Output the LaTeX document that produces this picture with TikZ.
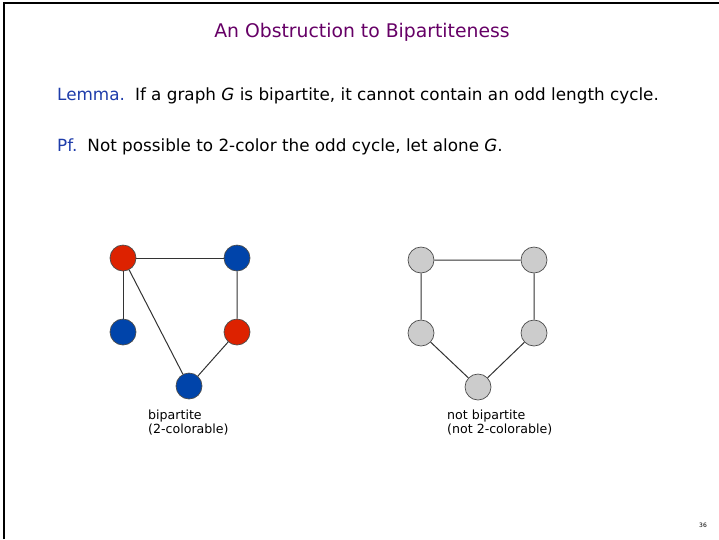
\documentclass[tikz,border=0pt]{standalone}
\usepackage{fontspec}
\setmainfont{DejaVu Sans}
\usetikzlibrary{positioning}
\definecolor{titlepurple}{RGB}{102,0,102}
\definecolor{lemmablue}{RGB}{30,60,170}
\definecolor{nodered}{RGB}{221,34,0}
\definecolor{nodeblue}{RGB}{0,68,170}
\definecolor{nodegray}{RGB}{204,204,204}

\begin{document}
\begin{tikzpicture}[x=1pt,y=-1pt]
	 \tikzstyle{vertex}=[circle,draw=black!70,line width=0.7pt,minimum size=26pt,inner sep=0pt]
	 \tikzstyle{edge} = [draw,line width=1pt,-,black!80]
	 \tikzstyle{textline}=[anchor=base west,inner sep=0pt,font=\fontsize{16.8}{20}\selectfont]
	 \tikzstyle{caption}=[anchor=base west,inner sep=0pt,align=left,font=\fontsize{12.6}{14}\selectfont]
	 \useasboundingbox (0,0) rectangle (719,539);
	 \draw[line width=2.5pt] (4,539) -- (4,3) -- (719,3);

	 \node[anchor=base,inner sep=0pt,text=titlepurple,font=\fontsize{18.8}{22}\selectfont] (title) at (362,37) {An Obstruction to Bipartiteness};
	 \node[textline] (lemma) at (57,100) {\textcolor{lemmablue}{Lemma.}\hspace{0.6em}If a graph \textit{G} is bipartite, it cannot contain an odd length cycle.};
	 \node[textline] (pf) at (57,151) {\textcolor{lemmablue}{Pf.}\hspace{0.6em}Not possible to 2-color the odd cycle, let alone \textit{G}.};

	 % bipartite graph
	 \node[vertex,fill=nodered] (u1) at (123,258) {};
	 \node[vertex,fill=nodeblue] (u2) at (237,258) {};
	 \node[vertex,fill=nodeblue] (u3) at (123,332) {};
	 \node[vertex,fill=nodered] (u4) at (237,332) {};
	 \node[vertex,fill=nodeblue] (u5) at (189,386) {};

	 \draw[edge] (u1) -- (u2);
	 \draw[edge] (u1) -- (u3);
	 \draw[edge] (u1) -- (u5);
	 \draw[edge] (u2) -- (u4) -- (u5);

	 % odd cycle
	 \node[vertex,fill=nodegray] (w1) at (421,260) {};
	 \node[vertex,fill=nodegray] (w2) at (534,260) {};
	 \node[vertex,fill=nodegray] (w3) at (421,333) {};
	 \node[vertex,fill=nodegray] (w4) at (534,333) {};
	 \node[vertex,fill=nodegray] (w5) at (478,387) {};

	 \draw[edge] (w1) -- (w2) -- (w4) -- (w5) -- (w3) -- (w1);

	 \node[caption] (cap1) at (148,433) {bipartite\\(2-colorable)};
	 \node[caption] (cap2) at (447,433) {not bipartite\\(not 2-colorable)};
	 \node[inner sep=0pt,font=\fontsize{6}{7}\selectfont] (page) at (703,525) {36};
 \end{tikzpicture}
\end{document}
